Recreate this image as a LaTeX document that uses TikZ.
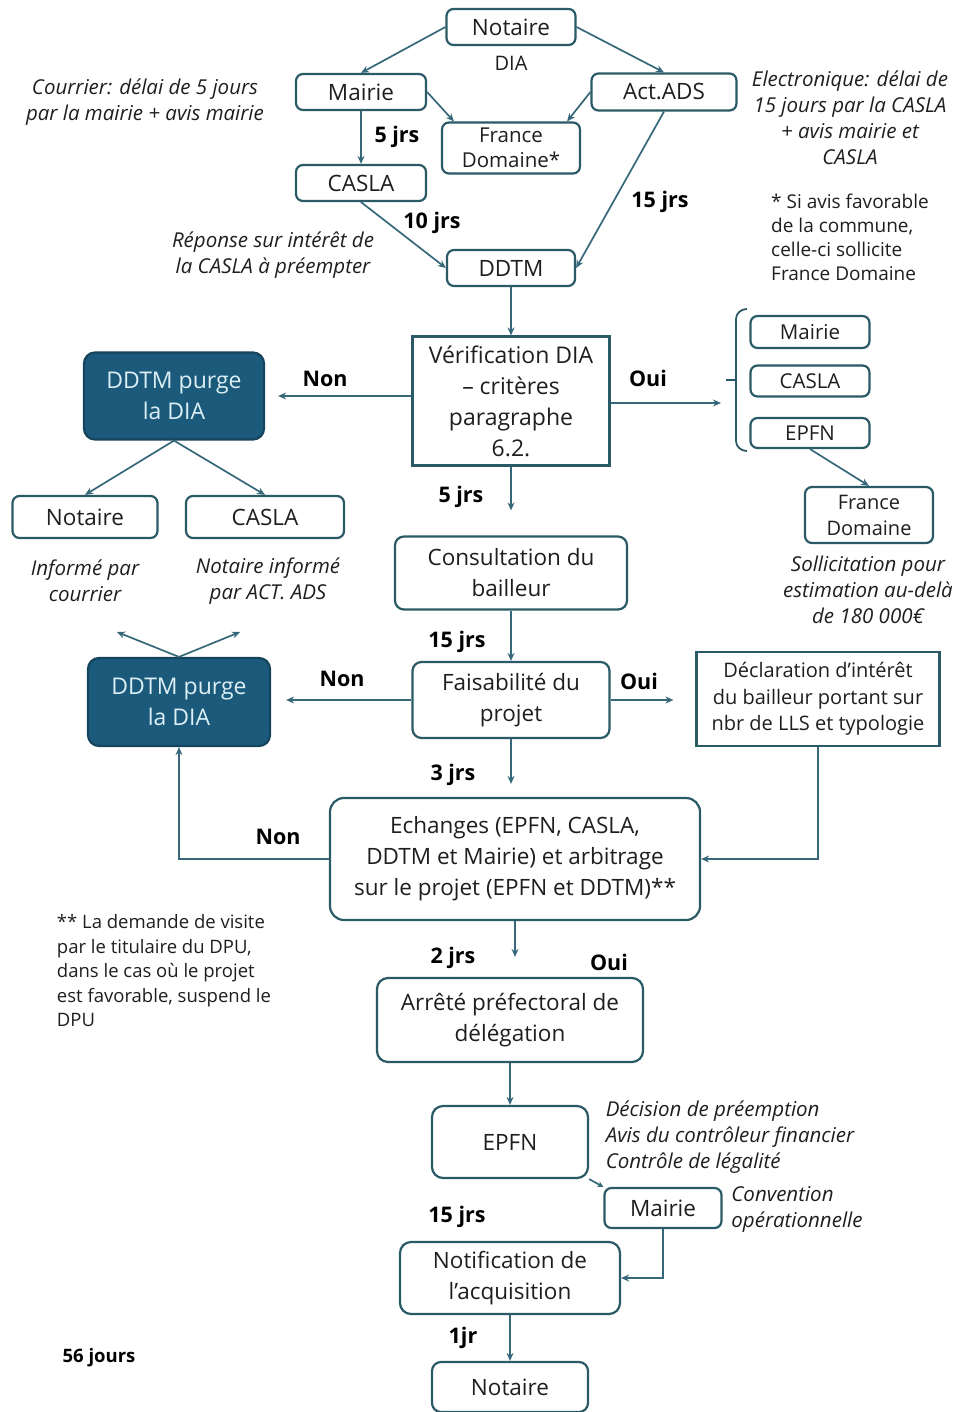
\documentclass[tikz,border=0pt]{standalone}
\usepackage{fontspec}
\setmainfont{Open Sans}
\usetikzlibrary{arrows.meta}
\definecolor{boxline}{HTML}{2A5A66}
\definecolor{linkc}{HTML}{36687A}
\definecolor{inkc}{HTML}{1E1E1E}
\definecolor{purgefill}{HTML}{1C5A7C}
\definecolor{purgetext}{HTML}{DCEFF5}
\tikzset{
  box/.style={draw=boxline, line width=2.2pt, rounded corners=7pt, text=inkc, align=center,
    inner sep=0pt, font=\fontsize{22.5}{31}\selectfont},
  sqbox/.style={box, rounded corners=0pt},
  purge/.style={box, fill=purgefill, draw=purgefill!75!black, text=purgetext},
  note/.style={text=inkc, align=center, inner sep=0pt, font=\fontsize{20.5}{26}\selectfont\itshape},
  small/.style={text=inkc, align=left, inner sep=0pt, font=\fontsize{18.5}{24.5}\selectfont},
  jrs/.style={text=black, inner sep=0pt, font=\fontsize{21.5}{24}\selectfont\bfseries},
  link/.style={draw=linkc, line width=1.7pt, -{Stealth[length=8pt,width=7pt]}},
}

\begin{document}
\begin{tikzpicture}[x=1pt,y=-1pt]
  \useasboundingbox (0,0) rectangle (962,1412);

  % top part
  \node[box, minimum width=129pt, minimum height=36pt] (not1) at (511,27) {Notaire};
  \node[box, minimum width=130pt, minimum height=36pt] (mai1) at (361,92) {Mairie};
  \node[box, minimum width=145pt, minimum height=37pt] (ads) at (664,92) {Act.ADS};
  \node[box, minimum width=138pt, minimum height=51pt, font=\fontsize{20.5}{25}\selectfont] (fd1) at (511,148) {France\\Domaine*};
  \node[box, minimum width=130pt, minimum height=36pt] (cas1) at (361,183) {CASLA};
  \node[box, minimum width=128pt, minimum height=36pt] (ddtm) at (511,268) {DDTM};

  \node[text=inkc, font=\fontsize{20}{22}\selectfont] (dia) at (511,63) {DIA};
  \node[note] (n1) at (145,102) {Courrier: délai de 5 jours\\par la mairie + avis mairie};
  \node[note] (n2) at (850,118) {Electronique: délai de\\15 jours par la CASLA\\+ avis mairie et\\CASLA};
  \node[small, font=\fontsize{19}{24}\selectfont] (n3) at (850,237) {* Si avis favorable\\de la commune,\\celle-ci sollicite\\France Domaine};
  \node[note] (n4) at (273,255) {Réponse sur intérêt de\\la CASLA à préempter};
  \node[jrs] (j1) at (397,137) {5 jrs};
  \node[jrs] (j2) at (432,223) {10 jrs};
  \node[jrs] (j3) at (660,202) {15 jrs};

  \draw[link] (not1.west) -- (mai1.north);
  \draw[link] (not1.east) -- (ads.north);
  \draw[link] (mai1.east) -- ([xshift=13pt]fd1.north west);
  \draw[link] (ads.west) -- ([xshift=-14pt]fd1.north east);
  \draw[link] (mai1.south) -- (cas1.north);
  \draw[link] (cas1.south) -- (ddtm.west);
  \draw[link] (ads.south) -- (ddtm.east);

  % verification
  \node[sqbox, minimum width=197pt, minimum height=129pt, font=\fontsize{23}{31}\selectfont] (verif) at (511,401) {Vérification DIA\\– critères\\paragraphe\\6.2.};
  \node[purge, minimum width=180pt, minimum height=87pt, rounded corners=11pt, font=\fontsize{23}{31}\selectfont] (pur1) at (174,396) {DDTM purge\\la DIA};
  \node[box, minimum width=145pt, minimum height=42pt] (not2) at (85,517) {Notaire};
  \node[box, minimum width=158pt, minimum height=42pt] (cas2) at (265,517) {CASLA};
  \node[note] (n5) at (85,581) {Informé par\\courrier};
  \node[note] (n6) at (268,581) {Notaire informé\\par ACT. ADS};
  \node[jrs] (non1) at (325,379) {Non};
  \node[jrs] (oui1) at (648,378) {Oui};
  \node[jrs] (j4) at (461,497) {5 jrs};

  \draw[link] (ddtm.south) -- (verif.north);
  \draw[link, shorten >=13pt] (verif.west |- pur1.east) -- (pur1.east);
  \draw[link] (pur1.south) -- (not2.north);
  \draw[link] (pur1.south) -- (cas2.north);

  % Oui branch
  \coordinate (brk) at (721,403);
  \node[box, minimum width=119pt, minimum height=32pt, font=\fontsize{20.5}{22}\selectfont] (mai2) at (810,332) {Mairie};
  \node[box, minimum width=119pt, minimum height=31pt, font=\fontsize{20.5}{22}\selectfont] (cas3) at (810,381) {CASLA};
  \node[box, minimum width=119pt, minimum height=30pt, font=\fontsize{20.5}{22}\selectfont] (epf1) at (810,433) {EPFN};
  \node[box, minimum width=128pt, minimum height=56pt, font=\fontsize{20}{26}\selectfont] (fd2) at (869,515) {France\\Domaine};
  \node[note] (n7) at (868,590) {Sollicitation pour\\estimation au-delà\\de 180 000€};
  \draw[link] (verif.east |- brk) -- (brk);
  \draw[draw=boxline, line width=1.8pt] (747,309) to[out=180,in=90] (736,319) -- (736,441) to[out=-90,in=180] (747,451);
  \draw[draw=boxline, line width=1.8pt] (736,380) -- (726,380);
  \draw[link] (epf1.south) -- (fd2.north);

  % bailleur
  \node[box, minimum width=232pt, minimum height=73pt, rounded corners=9pt] (cons) at (511,573) {Consultation du\\bailleur};
  \node[box, minimum width=197pt, minimum height=76pt, rounded corners=9pt] (fais) at (511,700) {Faisabilité du\\projet};
  \node[purge, minimum width=182pt, minimum height=88pt, rounded corners=11pt, font=\fontsize{23}{31}\selectfont] (pur2) at (179,702) {DDTM purge\\la DIA};
  \node[sqbox, minimum width=243pt, minimum height=94pt, font=\fontsize{20}{26.5}\selectfont] (decl) at (818,699) {Déclaration d’intérêt\\du bailleur portant sur\\nbr de LLS et typologie};
  \node[jrs] (j5) at (457,642) {15 jrs};
  \node[jrs] (non2) at (342,679) {Non};
  \node[jrs] (oui2) at (639,681) {Oui};
  \coordinate (up1) at (117,632);
  \coordinate (up2) at (240,632);

  \draw[link, shorten >=25pt] (verif.south) -- (cons.north);
  \draw[link] (cons.south) -- (fais.north);
  \draw[link, shorten >=15pt] (fais.west) -- (fais.west -| pur2.east);
  \draw[link, shorten >=22pt] (fais.east) -- (fais.east -| decl.west);
  \draw[link] (pur2.north) -- (up1);
  \draw[link] (pur2.north) -- (up2);

  % echanges
  \node[box, minimum width=370pt, minimum height=122pt, rounded corners=14pt] (ech) at (515,859) {Echanges (EPFN, CASLA,\\DDTM et Mairie) et arbitrage\\sur le projet (EPFN et DDTM)**};
  \node[jrs] (j6) at (453,775) {3 jrs};
  \node[jrs] (non3) at (278,837) {Non};
  \node[small] (n8) at (164,971) {** La demande de visite\\par le titulaire du DPU,\\dans le cas où le projet\\est favorable, suspend le\\DPU};

  \draw[link, shorten >=13pt] (fais.south) -- (fais.south |- ech.north);
  \draw[link] (decl.south) |- (ech.east);
  \draw[link] (ech.west) -| (pur2.south);

  % arrete et suite
  \node[box, minimum width=266pt, minimum height=84pt, rounded corners=11pt] (arr) at (510,1020) {Arrêté préfectoral de\\délégation};
  \node[jrs] (j7) at (453,958) {2 jrs};
  \node[jrs] (oui3) at (609,962) {Oui};
  \node[box, minimum width=156pt, minimum height=72pt, rounded corners=11pt] (epf2) at (510,1142) {EPFN};
  \node[note, align=left] (n9) at (730,1137) {Décision de préemption\\Avis du contrôleur financier\\Contrôle de légalité};
  \node[box, minimum width=117pt, minimum height=40pt] (mai3) at (663,1208) {Mairie};
  \node[note, align=left] (n10) at (797,1209) {Convention\\opérationnelle};
  \node[jrs] (j8) at (457,1217) {15 jrs};
  \node[box, minimum width=220pt, minimum height=72pt, rounded corners=11pt] (notif) at (510,1278) {Notification de\\l’acquisition};
  \node[jrs] (j9) at (463,1338) {1jr};
  \node[box, minimum width=156pt, minimum height=50pt, rounded corners=9pt] (not3) at (510,1387) {Notaire};
  \node[jrs, font=\fontsize{18.5}{22}\selectfont\bfseries] (tot) at (99,1358) {56 jours};

  \draw[link, shorten >=20pt] (ech.south) -- (ech.south |- arr.north);
  \draw[link] (arr.south) -- (epf2.north);
  \draw[link, -{Stealth[length=6pt,width=6pt]}] (epf2.south east) -- (mai3.north west);
  \draw[link] (mai3.south) |- (notif.east);
  \draw[link] (notif.south) -- (not3.north);
\end{tikzpicture}
\end{document}
